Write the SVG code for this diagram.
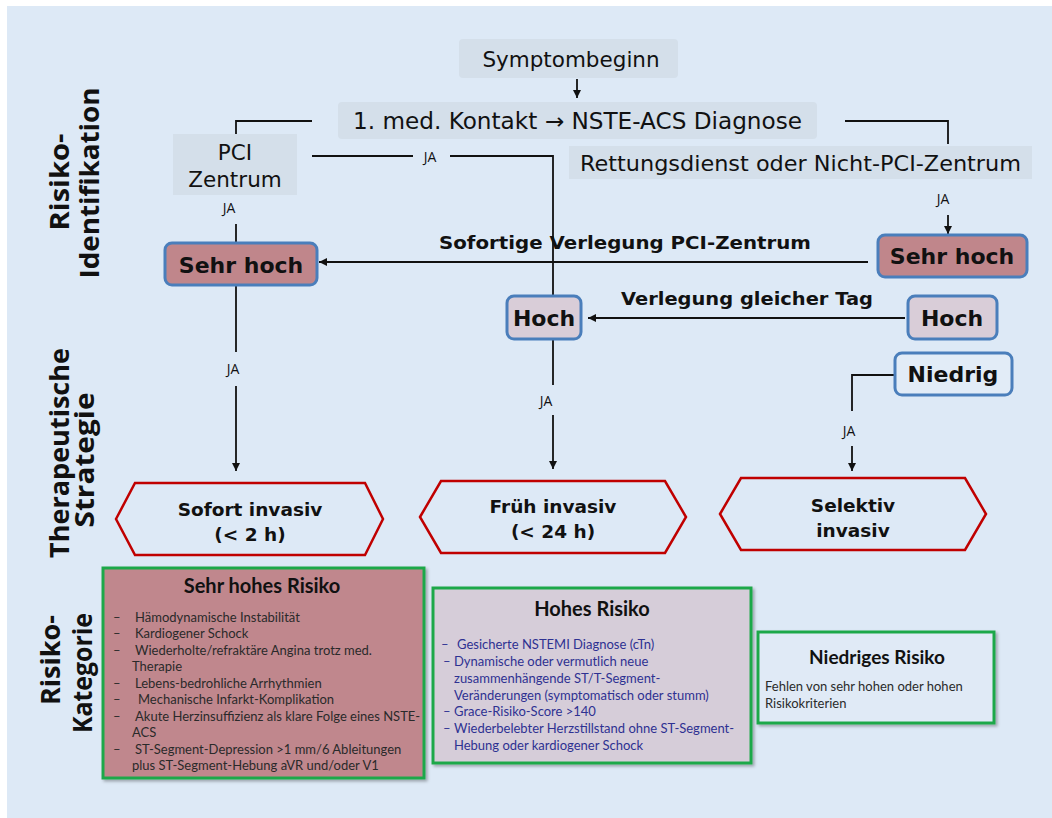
<svg xmlns="http://www.w3.org/2000/svg" width="1052" height="818" viewBox="0 0 1052 818">
<defs>
<marker id="arr" viewBox="0 0 10 10" refX="10" refY="5" markerWidth="8" markerHeight="8" markerUnits="userSpaceOnUse" orient="auto">
<path d="M0,0 L10,5 L0,10 z" fill="#111"/>
</marker>
<filter id="sh" x="-5%" y="-5%" width="112%" height="115%">
<feDropShadow dx="2" dy="2" stdDeviation="1.5" flood-color="#000" flood-opacity="0.3"/>
</filter>
<style>
.gbox{fill:#d4dfea;stroke:none}
.gt{font-family:"DejaVu Sans",Verdana,sans-serif;font-size:21.5px;fill:#111}
.rbox{stroke:#4a7ebb;stroke-width:3}
.bt{font-family:"DejaVu Sans",Verdana,sans-serif;font-weight:bold;font-size:22px;fill:#111;text-anchor:middle}
.lbl{font-family:"DejaVu Sans",Verdana,sans-serif;font-weight:bold;font-size:17.5px;fill:#111}
.ja{font-family:"Open Sans",sans-serif;font-size:14px;fill:#111;text-anchor:middle}
.ln{fill:none;stroke:#111;stroke-width:1.8}
.hex{fill:#dde9f6;stroke:#c00000;stroke-width:2.5}
.ht{font-family:"DejaVu Sans",Verdana,sans-serif;font-weight:bold;font-size:18.5px;fill:#111;text-anchor:middle}
.side{font-family:"Open Sans",sans-serif;font-weight:bold;font-size:27px;fill:#111;text-anchor:middle}
.cat{stroke:#1fa84a;stroke-width:3}
.ct{font-family:Lato,"Open Sans",sans-serif;font-weight:bold;font-size:20px;fill:#111;text-anchor:middle}
.it{font-family:Lato,"Open Sans",sans-serif;font-size:13px;fill:#2a2a2a}
.ib{font-family:Lato,"Open Sans",sans-serif;font-size:13px;fill:#2e3192}
</style>
</defs>
<rect x="0" y="0" width="1052" height="818" fill="#ffffff"/>
<rect x="7" y="6" width="1045" height="812" fill="#dde9f6"/>

<g id="side-labels">
<text class="side" transform="translate(69,182) rotate(-90)" textLength="97" lengthAdjust="spacingAndGlyphs">Risiko-</text>
<text class="side" transform="translate(99,183) rotate(-90)" textLength="191" lengthAdjust="spacingAndGlyphs">Identifikation</text>
<text class="side" transform="translate(69,453) rotate(-90)" textLength="210" lengthAdjust="spacingAndGlyphs">Therapeutische</text>
<text class="side" transform="translate(94,460) rotate(-90)" textLength="135" lengthAdjust="spacingAndGlyphs">Strategie</text>
<text class="side" transform="translate(60,660) rotate(-90)" textLength="90" lengthAdjust="spacingAndGlyphs">Risiko-</text>
<text class="side" transform="translate(92,673) rotate(-90)" textLength="120" lengthAdjust="spacingAndGlyphs">Kategorie</text>
</g>

<g id="connectors">
<line class="ln" x1="577" y1="79" x2="577" y2="98" marker-end="url(#arr)"/>
<polyline class="ln" points="312,121 236,121 236,134"/>
<line class="ln" x1="312" y1="156" x2="413" y2="156"/>
<polyline class="ln" points="450,156 553,156 553,296"/>
<line class="ln" x1="236" y1="224" x2="236" y2="243"/>
<polyline class="ln" points="845,121 948,121 948,144"/>
<line class="ln" x1="948" y1="215" x2="948" y2="234" marker-end="url(#arr)"/>
<line class="ln" x1="868" y1="262" x2="319" y2="262" marker-end="url(#arr)"/>
<line class="ln" x1="905" y1="318" x2="588" y2="318" marker-end="url(#arr)"/>
<polyline class="ln" points="894,375 852,375 852,411"/>
<line class="ln" x1="852" y1="446" x2="852" y2="471" marker-end="url(#arr)"/>
<line class="ln" x1="236" y1="286" x2="236" y2="352"/>
<line class="ln" x1="236" y1="386" x2="236" y2="471" marker-end="url(#arr)"/>
<line class="ln" x1="553" y1="339" x2="553" y2="385"/>
<line class="ln" x1="553" y1="415" x2="553" y2="469" marker-end="url(#arr)"/>
<text class="ja" x="430" y="162">JA</text>
<text class="ja" x="229" y="213">JA</text>
<text class="ja" x="943" y="204">JA</text>
<text class="ja" x="233" y="374">JA</text>
<text class="ja" x="546" y="406">JA</text>
<text class="ja" x="849" y="436">JA</text>
<text class="lbl" x="439" y="249" textLength="372" lengthAdjust="spacingAndGlyphs">Sofortige Verlegung PCI-Zentrum</text>
<text class="lbl" x="621" y="305" textLength="252" lengthAdjust="spacingAndGlyphs">Verlegung gleicher Tag</text>
</g>

<g id="symptombeginn">
<rect class="gbox" x="459" y="39" width="219" height="39" rx="4"/>
<text class="gt" x="571" y="67" text-anchor="middle">Symptombeginn</text>
</g>
<g id="kontakt">
<rect class="gbox" x="338" y="102" width="479" height="37" rx="4"/>
<text class="gt" x="353" y="129" textLength="449" lengthAdjust="spacingAndGlyphs" style="font-size:22.5px">1. med. Kontakt → NSTE-ACS Diagnose</text>
</g>
<g id="pci-zentrum">
<rect class="gbox" x="173" y="134" width="124" height="61"/>
<text class="gt" x="235" y="160" text-anchor="middle">PCI</text>
<text class="gt" x="235" y="187" text-anchor="middle">Zentrum</text>
</g>
<g id="rettungsdienst">
<rect class="gbox" x="569" y="146" width="463" height="33"/>
<text class="gt" x="580" y="171" textLength="441" lengthAdjust="spacingAndGlyphs" style="font-size:22px">Rettungsdienst oder Nicht-PCI-Zentrum</text>
</g>

<g id="sehr-hoch-links">
<rect class="rbox" x="165" y="243" width="152" height="42" rx="7" fill="#c0868b"/>
<text class="bt" x="241" y="273">Sehr hoch</text>
</g>
<g id="sehr-hoch-rechts">
<rect class="rbox" x="878" y="235" width="149" height="42" rx="7" fill="#c0868b"/>
<text class="bt" x="952" y="264">Sehr hoch</text>
</g>
<g id="hoch-mitte">
<rect class="rbox" x="507" y="296" width="74" height="43" rx="7" fill="#d9cdd8"/>
<text class="bt" x="544" y="326">Hoch</text>
</g>
<g id="hoch-rechts">
<rect class="rbox" x="908" y="296" width="89" height="43" rx="7" fill="#d9cdd8"/>
<text class="bt" x="952" y="326">Hoch</text>
</g>
<g id="niedrig">
<rect class="rbox" x="895" y="353" width="117" height="42" rx="7" fill="#e2ecf7"/>
<text class="bt" x="953" y="382">Niedrig</text>
</g>

<g id="sofort-invasiv">
<polygon class="hex" points="116,519 135,483 365,483 383,519 365,555 135,555"/>
<text class="ht" x="250" y="516">Sofort invasiv</text>
<text class="ht" x="250" y="541">(&lt; 2 h)</text>
</g>
<g id="frueh-invasiv">
<polygon class="hex" points="420,517 441,481 665,481 686,517 665,553 441,553"/>
<text class="ht" x="553" y="513">Früh invasiv</text>
<text class="ht" x="553" y="538">(&lt; 24 h)</text>
</g>
<g id="selektiv-invasiv">
<polygon class="hex" points="720,514 741,478 965,478 986,514 965,550 741,550"/>
<text class="ht" x="853" y="512">Selektiv</text>
<text class="ht" x="853" y="537">invasiv</text>
</g>

<g id="sehr-hohes-risiko">
<rect class="cat" x="103" y="568" width="321" height="210" fill="#c0878d" filter="url(#sh)"/>
<text class="ct" x="262" y="593">Sehr hohes Risiko</text>
<g class="it">
<text x="113" y="622">–</text><text x="135" y="622">Hämodynamische Instabilität</text>
<text x="113" y="638">–</text><text x="135" y="638">Kardiogener Schock</text>
<text x="113" y="655">–</text><text x="135" y="655">Wiederholte/refraktäre Angina trotz med.</text>
<text x="132" y="671">Therapie</text>
<text x="113" y="688">–</text><text x="135" y="688">Lebens-bedrohliche Arrhythmien</text>
<text x="113" y="704">–</text><text x="138" y="704">Mechanische Infarkt-Komplikation</text>
<text x="113" y="721">–</text><text x="135" y="721">Akute Herzinsuffizienz als klare Folge eines NSTE-</text>
<text x="132" y="737">ACS</text>
<text x="113" y="754">–</text><text x="135" y="754">ST-Segment-Depression &gt;1 mm/6 Ableitungen</text>
<text x="132" y="770">plus ST-Segment-Hebung aVR und/oder V1</text>
</g>
</g>

<g id="hohes-risiko">
<rect class="cat" x="433" y="588" width="318" height="175" fill="#d6cdd9" filter="url(#sh)"/>
<text class="ct" x="592" y="616">Hohes Risiko</text>
<g class="ib">
<text x="441" y="649">–</text><text x="457" y="649">Gesicherte NSTEMI Diagnose (cTn)</text>
<text x="443" y="666">–</text><text x="454" y="666">Dynamische oder vermutlich neue</text>
<text x="454" y="683">zusammenhängende ST/T-Segment-</text>
<text x="454" y="700">Veränderungen (symptomatisch oder stumm)</text>
<text x="443" y="716">–</text><text x="454" y="716">Grace-Risiko-Score &gt;140</text>
<text x="443" y="733">–</text><text x="454" y="733">Wiederbelebter Herzstillstand ohne ST-Segment-</text>
<text x="454" y="750">Hebung oder kardiogener Schock</text>
</g>
</g>

<g id="niedriges-risiko">
<rect class="cat" x="758" y="632" width="236" height="91" fill="#e0eaf6" filter="url(#sh)"/>
<text class="ct" x="877" y="664" style="font-size:19px">Niedriges Risiko</text>
<text class="it" x="765" y="691">Fehlen von sehr hohen oder hohen</text>
<text class="it" x="765" y="708">Risikokriterien</text>
</g>
</svg>
